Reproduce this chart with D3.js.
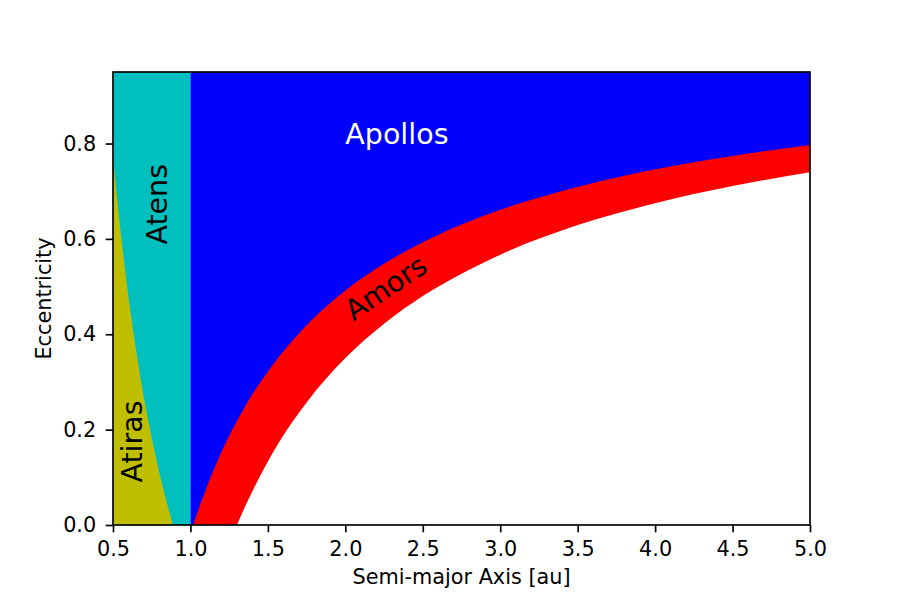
<!DOCTYPE html>
<html>
<head>
<meta charset="utf-8">
<script src="https://cdn.jsdelivr.net/npm/d3@7"></script>
<style>
  body { margin: 0; background: #fff; }
  svg { display: block; }
  text { font-family: "DejaVu Sans", sans-serif; }
</style>
</head>
<body>
<svg id="chart" width="900" height="600"></svg>
<script>
// ---- data ----
const xTicks = [0.5, 1.0, 1.5, 2.0, 2.5, 3.0, 3.5, 4.0, 4.5, 5.0];
const yTicks = [0.0, 0.2, 0.4, 0.6, 0.8];

// Atiras upper boundary (semi-major axis a, eccentricity e)
const atiraA = [0.50, 0.525, 0.55, 0.575, 0.60, 0.65, 0.70, 0.75, 0.80, 0.85, 0.887];
const atiraE = [0.774, 0.690, 0.613, 0.543, 0.478, 0.365, 0.267, 0.183, 0.109, 0.044, 0.0];

// Apollos / Amors boundary
const apolloA = [1.017, 1.05, 1.1, 1.2, 1.3, 1.4, 1.5, 1.75, 2.0, 2.25, 2.5, 2.75, 3.0, 3.5, 4.0, 4.5, 5.0];
const apolloE = [0.0, 0.031, 0.075, 0.153, 0.218, 0.274, 0.322, 0.419, 0.492, 0.548, 0.593, 0.630, 0.661, 0.709, 0.746, 0.774, 0.797];

// Amors lower boundary
const amorA = [1.3, 1.35, 1.4, 1.5, 1.6, 1.75, 2.0, 2.25, 2.5, 2.75, 3.0, 3.5, 4.0, 4.5, 5.0];
const amorE = [0.0, 0.037, 0.071, 0.133, 0.188, 0.257, 0.350, 0.422, 0.480, 0.527, 0.567, 0.629, 0.675, 0.711, 0.740];

// Region extents
const atenRange = [0.5, 1.0];
const neoRange = [1.0, 5.0];
const eMax = 0.95;

const labels = ["Apollos", "Atens", "Atiras", "Amors"];

// ---- layout ----
const svg = d3.select("#chart");
const L = 113, R = 810, T = 72, B = 525;
const x = d3.scaleLinear().domain([0.5, 5.0]).range([L, R]);
const y = d3.scaleLinear().domain([0, eMax]).range([B, T]);
const fontPx = 20.8;

const g = svg.append("g");

// Atens (cyan) background
g.append("rect")
  .attr("x", x(atenRange[0])).attr("y", y(eMax))
  .attr("width", x(atenRange[1]) - x(atenRange[0]))
  .attr("height", y(0) - y(eMax))
  .attr("fill", "#00bfbf");

// Apollos (blue) background
g.append("rect")
  .attr("x", x(neoRange[0])).attr("y", y(eMax))
  .attr("width", x(neoRange[1]) - x(neoRange[0]))
  .attr("height", y(0) - y(eMax))
  .attr("fill", "#0000ff");

const zip = (as, es) => as.map((a, i) => ({ a, e: es[i] }));

const area = d3.area()
  .x(d => x(d.a))
  .y0(y(0))
  .y1(d => y(d.e))
  .curve(d3.curveMonotoneX);

// Atiras (yellow)
g.append("path").datum(zip(atiraA, atiraE))
  .attr("d", area).attr("fill", "#bfbf00");

// Amors (red) - below Apollo boundary
g.append("path").datum(zip(apolloA, apolloE))
  .attr("d", area).attr("fill", "#ff0000");

// Beyond Amors (white)
g.append("path").datum(zip(amorA, amorE))
  .attr("d", area).attr("fill", "#ffffff");

// ---- region labels ----
const labFont = 28.5;
svg.append("text")
  .attr("x", x(2.0)).attr("y", y(0.8))
  .attr("fill", "#ffffff").attr("font-size", labFont)
  .text(labels[0]);

svg.append("text")
  .attr("transform", `translate(${x(0.847)},${y(0.588)}) rotate(-90)`)
  .attr("fill", "#000").attr("font-size", labFont)
  .text(labels[1]);

svg.append("text")
  .attr("transform", `translate(${x(0.685)},${y(0.089)}) rotate(-90)`)
  .attr("fill", "#000").attr("font-size", labFont)
  .text(labels[2]);

svg.append("text")
  .attr("transform", `translate(${x(2.053)},${y(0.427)}) rotate(-34)`)
  .attr("fill", "#000").attr("font-size", labFont)
  .text(labels[3]);

// ---- axes ----
const tickLen = 7.3;
const xAxis = d3.axisBottom(x).tickValues(xTicks).tickFormat(d3.format(".1f"))
  .tickSize(tickLen).tickPadding(9).tickSizeOuter(0);
const yAxis = d3.axisLeft(y).tickValues(yTicks).tickFormat(d3.format(".1f"))
  .tickSize(tickLen).tickPadding(9.5).tickSizeOuter(0);

const gx = svg.append("g").attr("transform", `translate(0,${B})`).call(xAxis);
const gy = svg.append("g").attr("transform", `translate(${L},0)`).call(yAxis);
[gx, gy].forEach(ax => {
  ax.select(".domain").remove();
  ax.selectAll(".tick line").attr("stroke", "#000").attr("stroke-width", 1.67);
  ax.selectAll(".tick text").attr("fill", "#000")
    .attr("font-family", "DejaVu Sans, sans-serif").attr("font-size", fontPx);
});

// spines
svg.append("rect")
  .attr("x", L).attr("y", T).attr("width", R - L).attr("height", B - T)
  .attr("fill", "none").attr("stroke", "#000").attr("stroke-width", 1.67);

// axis titles
svg.append("text")
  .attr("x", (L + R) / 2).attr("y", 583.5)
  .attr("text-anchor", "middle").attr("font-size", fontPx).attr("fill", "#000")
  .text("Semi-major Axis [au]");

svg.append("text")
  .attr("transform", `translate(51,${(T + B) / 2}) rotate(-90)`)
  .attr("text-anchor", "middle").attr("font-size", fontPx).attr("fill", "#000")
  .text("Eccentricity");
</script>
</body>
</html>
